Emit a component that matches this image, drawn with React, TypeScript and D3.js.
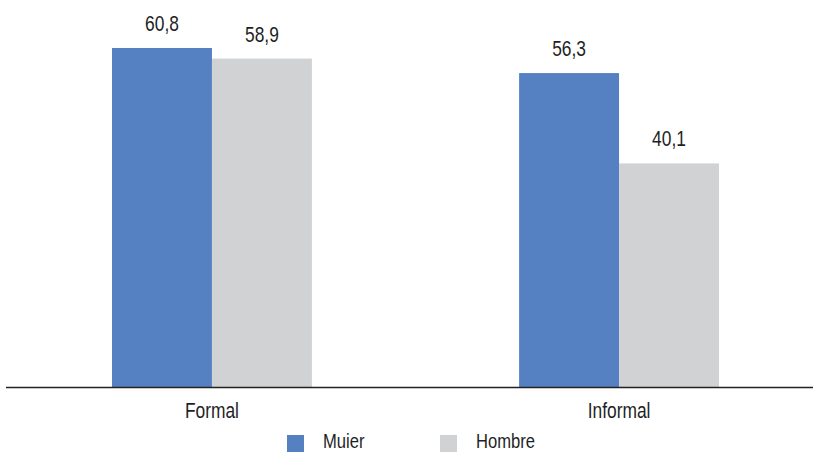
import React from "react";
import * as d3 from "d3";

const categories = ["Formal", "Informal"];
const seriesNames = ["Muier", "Hombre"];
const mujerValues = [60.8, 56.3];
const hombreValues = [58.9, 40.1];
const seriesColors = ["#5581C3", "#D1D2D4"];

const W = 813;
const H = 452;
const baseY = 387;
const FONT = "'Liberation Sans', Arial, sans-serif";
const FS = 22;
const NARROW = 0.79;

function Label({ x, y, anchor = "middle", size = FS, children }: { x: number; y: number; anchor?: string; size?: number; children: React.ReactNode }) {
  return (
    <text transform={`translate(${x},${y}) scale(${NARROW},1)`} textAnchor={anchor} fontSize={size} fill="#1f1f1f">
      {children}
    </text>
  );
}

export default function App() {
  const x = d3.scaleBand<string>().domain(categories).range([8, 823]).paddingInner(0.509).paddingOuter(0.2555);
  const sub = d3.scaleBand<string>().domain(seriesNames).range([0, x.bandwidth()]);
  const y = d3.scaleLinear().domain([0, 70]).range([baseY, baseY - 70 * 5.576]);
  const values = [mujerValues, hombreValues];
  const fmt = (v: number) => v.toFixed(1).replace(".", ",");

  return (
    <svg width={W} height={H} style={{ position: "absolute", left: 0, top: 0, background: "#fff" }} fontFamily={FONT}>
      {categories.map((c, ci) => (
        <g key={c} transform={`translate(${x(c)},0)`}>
          {seriesNames.map((s, si) => {
            const v = values[si][ci];
            const bx = sub(s)!;
            return (
              <g key={s}>
                <rect x={bx} y={y(v)} width={sub.bandwidth()} height={baseY - y(v)} fill={seriesColors[si]} />
                <Label x={bx + sub.bandwidth() / 2} y={y(v) - 17}>{fmt(v)}</Label>
              </g>
            );
          })}
          <Label x={x.bandwidth() / 2} y={418}>{c}</Label>
        </g>
      ))}
      <line x1={6} x2={813} y1={baseY + 0.5} y2={baseY + 0.5} stroke="#222" strokeWidth={1.5} />
      {seriesNames.map((s, si) => {
        const lx = [287, 440][si];
        return (
          <g key={s}>
            <rect x={lx} y={435} width={17} height={17} fill={seriesColors[si]} />
            <Label x={lx + 36} y={448} anchor="start" size={21}>{s}</Label>
          </g>
        );
      })}
    </svg>
  );
}
